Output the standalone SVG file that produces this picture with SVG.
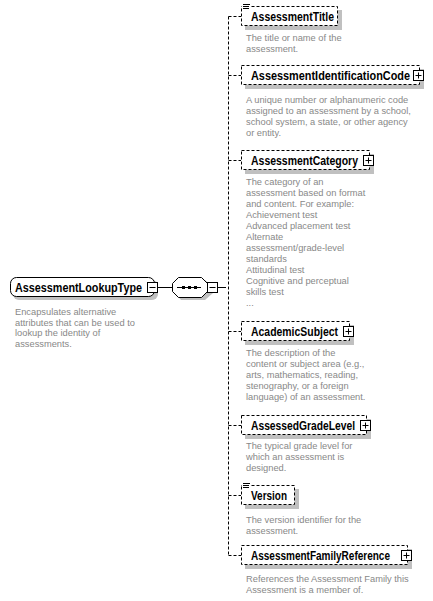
<svg xmlns="http://www.w3.org/2000/svg" width="433" height="601" viewBox="0 0 433 601">
<style>
.bg{fill:#ffffff}
.sh{fill:#c0c0c0;stroke:none}
.box{fill:#ffffff;stroke:#000;stroke-width:1}
.opt{fill:#ffffff;stroke:#000;stroke-width:1;stroke-dasharray:3,2}
.lbl{font-family:"Liberation Sans",Arial,sans-serif;font-weight:bold;font-size:12px;fill:#000}
.desc{font-family:"Liberation Sans",Arial,sans-serif;font-size:9.3px;fill:#888888}
.ln{stroke:#000;stroke-width:1;fill:none}
.dl{stroke:#000;stroke-width:1;fill:none;stroke-dasharray:3,2}
.pm{fill:#fff;stroke:#000;stroke-width:1}
</style>
<defs>
<g id="plus"><rect class="pm" x="0.5" y="0.5" width="10" height="10"/><path class="ln" d="M2.5 5.5H8.5M5.5 2.5V8.5"/></g>
<g id="minus"><rect class="pm" x="0.5" y="0.5" width="10" height="10"/><path class="ln" d="M2.5 5.5H8.5"/></g>
<g id="simple"><rect x="242" y="0" width="8" height="6" fill="#fff"/><path class="ln" d="M243 0.5H250M243 2.5H249M243 4.5H249"/></g>
</defs>
<rect class="bg" x="0" y="0" width="433" height="601"/>

<g id="connectors">
<path class="ln" d="M157 287.5H172"/>
<path class="ln" d="M217 287.5H223"/>
<path class="dl" d="M223 287.5H228.5"/>
<path class="dl" d="M228.5 16.5V555.5"/>
<path class="dl" d="M228.5 16.5H241"/>
<path class="dl" d="M228.5 75.5H241"/>
<path class="dl" d="M228.5 160.5H241"/>
<path class="dl" d="M228.5 331.5H241"/>
<path class="dl" d="M228.5 425.5H241"/>
<path class="dl" d="M228.5 495.5H241"/>
<path class="dl" d="M228.5 555.5H241"/>
</g>

<g id="AssessmentLookupType">
<rect class="sh" x="13" y="280" width="145" height="20" rx="6"/>
<rect class="box" x="10.5" y="277.5" width="144" height="19" rx="6"/>
<text class="lbl" x="15" y="291.5" textLength="127" lengthAdjust="spacingAndGlyphs">AssessmentLookupType</text>
<use href="#minus" x="147" y="282"/>
<text class="desc" x="15"><tspan x="15" y="315">Encapsulates alternative</tspan><tspan x="15" y="325.5">attributes that can be used to</tspan><tspan x="15" y="336">lookup the identity of</tspan><tspan x="15" y="346.5">assessments.</tspan></text>
</g>

<g id="sequence">
<path class="sh" d="M181 280H205L213 287V293L205 300H181L175 293V287Z"/>
<path class="box" d="M178.5 277.5H201.5L207.5 283.5V291.5L201.5 297.5H178.5L172.5 291.5V283.5Z"/>
<path class="ln" d="M177 287.5H201"/>
<rect x="182" y="286" width="3" height="3" fill="#000"/>
<rect x="188" y="286" width="3" height="3" fill="#000"/>
<rect x="194" y="286" width="3" height="3" fill="#000"/>
<use href="#minus" x="207" y="282"/>
</g>

<g id="AssessmentTitle">
<rect class="sh" x="245" y="10" width="97" height="20"/>
<rect class="opt" x="241.5" y="6.5" width="96" height="19"/>
<use href="#simple" x="0" y="4"/>
<text class="lbl" x="251" y="20.5" textLength="83" lengthAdjust="spacingAndGlyphs">AssessmentTitle</text>
<text class="desc"><tspan x="246" y="40.5">The title or name of the</tspan><tspan x="246" y="51.5">assessment.</tspan></text>
</g>

<g id="AssessmentIdentificationCode">
<rect class="sh" x="245" y="69" width="179" height="20"/>
<rect class="opt" x="241.5" y="65.5" width="178" height="19"/>
<text class="lbl" x="251" y="79.5" textLength="159" lengthAdjust="spacingAndGlyphs">AssessmentIdentificationCode</text>
<use href="#plus" x="413" y="70"/>
<text class="desc"><tspan x="246" y="102.5">A unique number or alphanumeric code</tspan><tspan x="246" y="113.5">assigned to an assessment by a school,</tspan><tspan x="246" y="124.5">school system, a state, or other agency</tspan><tspan x="246" y="135.5">or entity.</tspan></text>
</g>

<g id="AssessmentCategory">
<rect class="sh" x="245" y="154" width="129" height="20"/>
<rect class="opt" x="241.5" y="150.5" width="128" height="19"/>
<text class="lbl" x="251" y="164.5" textLength="107" lengthAdjust="spacingAndGlyphs">AssessmentCategory</text>
<use href="#plus" x="363" y="155"/>
<text class="desc"><tspan x="246" y="184.5">The category of an</tspan><tspan x="246" y="195.5">assessment based on format</tspan><tspan x="246" y="206.5">and content. For example:</tspan><tspan x="246" y="217.5">Achievement test</tspan><tspan x="246" y="228.5">Advanced placement test</tspan><tspan x="246" y="239.5">Alternate</tspan><tspan x="246" y="250.5">assessment/grade-level</tspan><tspan x="246" y="261.5">standards</tspan><tspan x="246" y="272.5">Attitudinal test</tspan><tspan x="246" y="283.5">Cognitive and perceptual</tspan><tspan x="246" y="294.5">skills test</tspan><tspan x="246" y="305.5">...</tspan></text>
</g>

<g id="AcademicSubject">
<rect class="sh" x="245" y="325" width="109" height="20"/>
<rect class="opt" x="241.5" y="321.5" width="108" height="19"/>
<text class="lbl" x="251" y="335.5" textLength="87" lengthAdjust="spacingAndGlyphs">AcademicSubject</text>
<use href="#plus" x="343" y="326"/>
<text class="desc"><tspan x="246" y="355.5">The description of the</tspan><tspan x="246" y="366.5">content or subject area (e.g.,</tspan><tspan x="246" y="377.5">arts, mathematics, reading,</tspan><tspan x="246" y="388.5">stenography, or a foreign</tspan><tspan x="246" y="399.5">language) of an assessment.</tspan></text>
</g>

<g id="AssessedGradeLevel">
<rect class="sh" x="245" y="419" width="126" height="20"/>
<rect class="opt" x="241.5" y="415.5" width="125" height="19"/>
<text class="lbl" x="251" y="429.5" textLength="104" lengthAdjust="spacingAndGlyphs">AssessedGradeLevel</text>
<use href="#plus" x="360" y="420"/>
<text class="desc"><tspan x="246" y="449">The typical grade level for</tspan><tspan x="246" y="460">which an assessment is</tspan><tspan x="246" y="471">designed.</tspan></text>
</g>

<g id="Version">
<rect class="sh" x="245" y="489" width="54" height="20"/>
<rect class="opt" x="241.5" y="485.5" width="53" height="19"/>
<use href="#simple" x="0" y="483"/>
<text class="lbl" x="251" y="499.5" textLength="36" lengthAdjust="spacingAndGlyphs">Version</text>
<text class="desc"><tspan x="246" y="523">The version identifier for the</tspan><tspan x="246" y="534">assessment.</tspan></text>
</g>

<g id="AssessmentFamilyReference">
<rect class="sh" x="245" y="549" width="167" height="20"/>
<rect class="opt" x="241.5" y="545.5" width="166" height="19"/>
<text class="lbl" x="251" y="559.5" textLength="139" lengthAdjust="spacingAndGlyphs">AssessmentFamilyReference</text>
<use href="#plus" x="401" y="550"/>
<text class="desc"><tspan x="246" y="582">References the Assessment Family this</tspan><tspan x="246" y="593">Assessment is a member of.</tspan></text>
</g>
</svg>
